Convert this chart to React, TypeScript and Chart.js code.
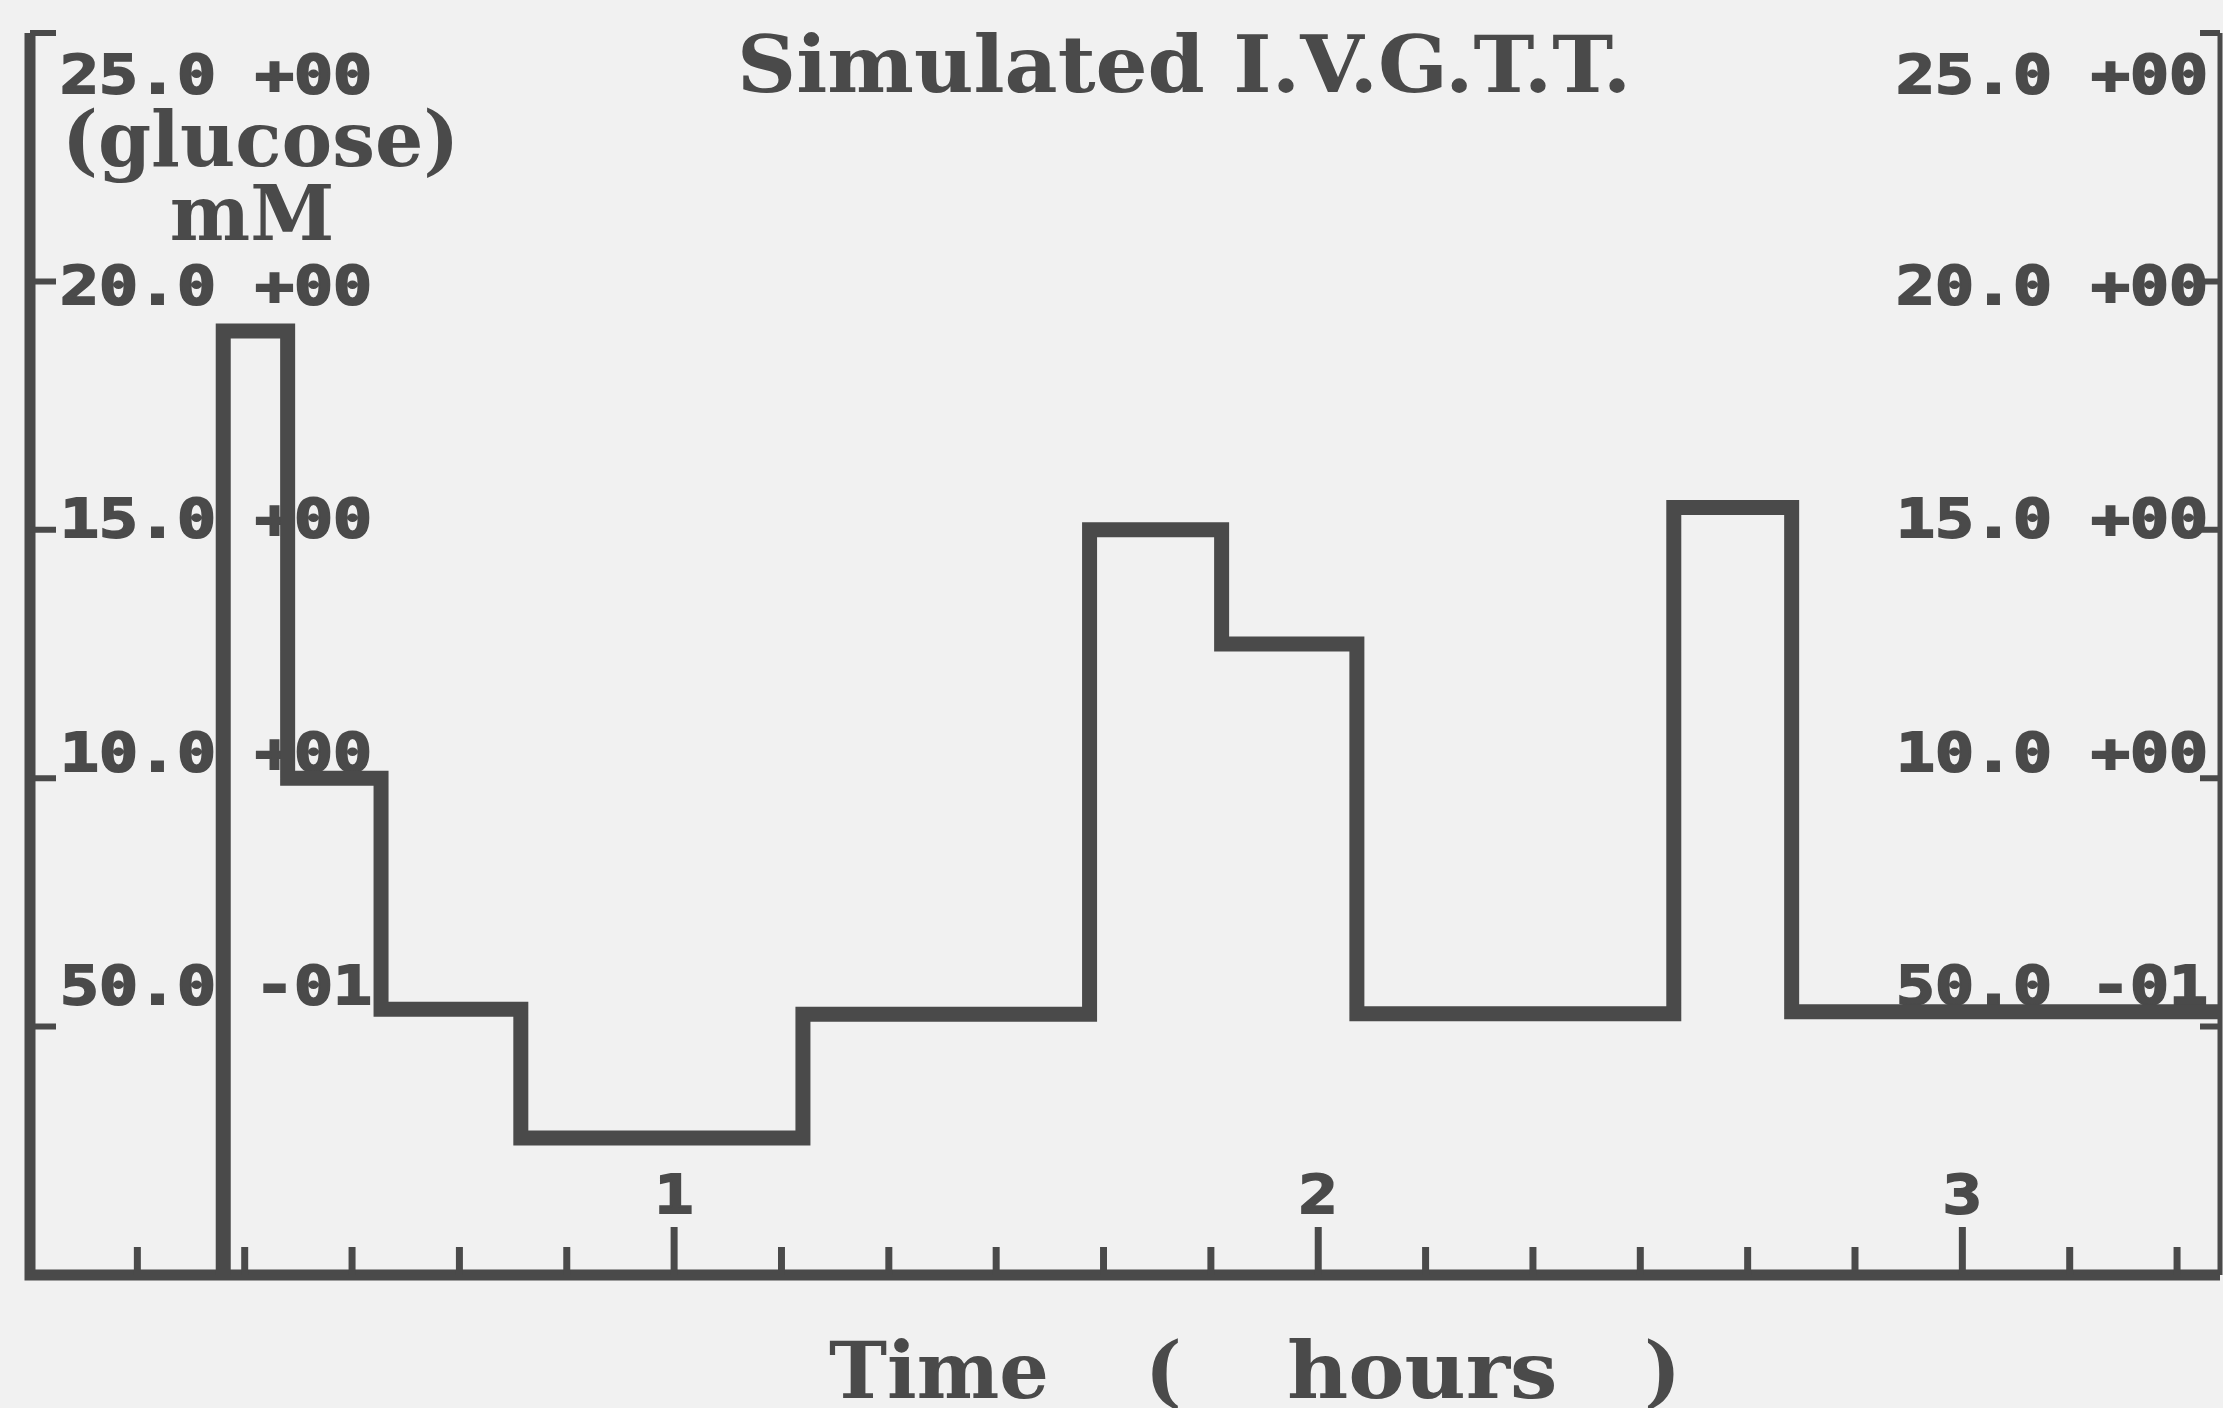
import React, { useEffect, useRef } from 'react';
import { Chart, registerables } from 'chart.js';

Chart.register(...registerables);

// ---- data ----
const timeHours = [0.3, 0.3, 0.4, 0.545, 0.762, 1.2, 1.645, 1.85, 2.06, 2.552, 2.735, 3.4];
const glucoseMM = [0, 19.0, 10.0, 5.35, 2.76, 5.25, 15.0, 12.7, 5.26, 15.45, 5.3, 5.3];

const yTickValues = [25, 20, 15, 10, 5];
const yTickLabels = ['25.0 +00', '20.0 +00', '15.0 +00', '10.0 +00', '50.0 -01'];
const xMajorHours = [1, 2, 3];
const xMajorLabels = ['1', '2', '3'];
const xMinorStepHours = 1 / 6;
const X_MAX = 3.4;
const Y_MAX = 25;

const titleText = 'Simulated I.V.G.T.T.';
const yTitleLines = ['(glucose)', 'mM'];
const xTitleParts = ['Time', '(', 'hours', ')'];

const INK = '#4a4a4a';
const PAPER = '#f1f1f1';

function drawMono(ctx: CanvasRenderingContext2D, text: string, x: number, yc: number, align: CanvasTextAlign) {
  ctx.save();
  ctx.font = 'bold 54px "DejaVu Sans Mono"';
  ctx.textBaseline = 'middle';
  ctx.textAlign = align;
  ctx.translate(x, yc);
  ctx.scale(1.2, 1);
  ctx.fillStyle = INK;
  ctx.strokeStyle = INK;
  ctx.lineWidth = 2;
  ctx.fillText(text, 0, 0);
  ctx.strokeText(text, 0, 0);
  ctx.restore();
}

const paperPlugin = {
  id: 'paperPlot',
  beforeDraw(chart: any) {
    const ctx = chart.ctx as CanvasRenderingContext2D;
    ctx.save();
    ctx.fillStyle = PAPER;
    ctx.fillRect(0, 0, chart.width, chart.height);
    ctx.restore();
  },
  beforeDatasetsDraw(chart: any) {
    const ctx = chart.ctx as CanvasRenderingContext2D;
    const a = chart.chartArea;
    const x = chart.scales.x;
    const y = chart.scales.y;
    const top = y.getPixelForValue(Y_MAX);
    const bottom = y.getPixelForValue(0);
    ctx.save();
    ctx.strokeStyle = INK;
    ctx.lineCap = 'butt';
    ctx.lineJoin = 'miter';

    // left axis + bottom axis
    ctx.lineWidth = 11;
    ctx.beginPath();
    ctx.moveTo(a.left, top);
    ctx.lineTo(a.left, bottom);
    ctx.lineTo(a.right, bottom);
    ctx.stroke();

    // right axis
    ctx.lineWidth = 5;
    ctx.beginPath();
    ctx.moveTo(a.right, top);
    ctx.lineTo(a.right, bottom);
    ctx.stroke();

    // y ticks (inward)
    ctx.lineWidth = 6;
    yTickValues.forEach((v) => {
      const py = y.getPixelForValue(v);
      ctx.beginPath();
      ctx.moveTo(a.left, py);
      ctx.lineTo(a.left + 26, py);
      ctx.moveTo(a.right, py);
      ctx.lineTo(a.right - 20, py);
      ctx.stroke();
    });

    // x ticks (inward)
    ctx.lineWidth = 7;
    for (let h = xMinorStepHours; h < X_MAX; h += xMinorStepHours) {
      const major = xMajorHours.some((m) => Math.abs(m - h) < 1e-6);
      const px = x.getPixelForValue(h);
      const len = major ? 48 : 28;
      ctx.beginPath();
      ctx.moveTo(px, bottom);
      ctx.lineTo(px, bottom - len);
      ctx.stroke();
    }
    ctx.restore();

    // y tick labels (both sides)
    yTickValues.forEach((v, i) => {
      const py = y.getPixelForValue(v);
      const yc = Math.max(a.top + 46, a.top + 0.94 * (py - a.top) + 23);
      drawMono(ctx, yTickLabels[i], a.left + 30, yc, 'left');
      drawMono(ctx, yTickLabels[i], a.right - 12, yc, 'right');
    });

    // x tick labels
    xMajorHours.forEach((h, i) => {
      drawMono(ctx, xMajorLabels[i], x.getPixelForValue(h), bottom - 76, 'center');
    });

    // titles
    ctx.save();
    ctx.fillStyle = INK;
    ctx.textBaseline = 'alphabetic';
    ctx.textAlign = 'left';
    ctx.save();
    ctx.translate(a.left + 707, a.top + 59);
    ctx.scale(1.05, 1);
    ctx.font = 'bold 78px "DejaVu Serif"';
    ctx.fillText(titleText, 0, 0);
    ctx.restore();

    ctx.font = 'bold 76px "DejaVu Serif"';
    ctx.fillText(yTitleLines[0], a.left + 32, a.top + 133);
    ctx.textAlign = 'center';
    ctx.fillText(yTitleLines[1], a.left + 222, a.top + 207);

    ctx.textAlign = 'left';
    ctx.font = 'bold 78px "DejaVu Serif"';
    const xOffsets = [799, 1115, 1257, 1614];
    xTitleParts.forEach((p, i) => {
      ctx.save();
      ctx.translate(a.left + xOffsets[i], bottom + 123);
      if (p === 'hours') ctx.scale(1.08, 1);
      ctx.fillText(p, 0, 0);
      ctx.restore();
    });
    ctx.restore();
  },
};

export default function App() {
  const ref = useRef<HTMLCanvasElement | null>(null);

  useEffect(() => {
    document.body.style.margin = '0';
    document.body.style.background = PAPER;
    const canvas = ref.current;
    if (!canvas) return;
    const points = timeHours.map((t, i) => ({ x: t, y: glucoseMM[i] }));
    const chart = new Chart(canvas, {
      type: 'line',
      data: {
        datasets: [
          {
            label: 'glucose',
            data: points,
            stepped: 'before',
            borderColor: '#4a4a4a',
            borderWidth: 15,
            borderJoinStyle: 'miter',
            borderCapStyle: 'butt',
            pointRadius: 0,
            fill: false,
            tension: 0,
          },
        ],
      },
      options: {
        animation: false,
        responsive: false,
        devicePixelRatio: 1,
        layout: { padding: { left: 30, right: 3, top: 33, bottom: 133 } },
        plugins: {
          legend: { display: false },
          title: { display: false },
          tooltip: { enabled: false },
        },
        scales: {
          x: { type: 'linear', min: 0, max: X_MAX, display: false },
          y: { type: 'linear', min: 0, max: Y_MAX, display: false },
        },
      },
      plugins: [paperPlugin],
    });
    return () => chart.destroy();
  }, []);

  return (
    <canvas
      ref={ref}
      width={2223}
      height={1408}
      style={{ display: 'block', width: '2223px', height: '1408px' }}
    />
  );
}
